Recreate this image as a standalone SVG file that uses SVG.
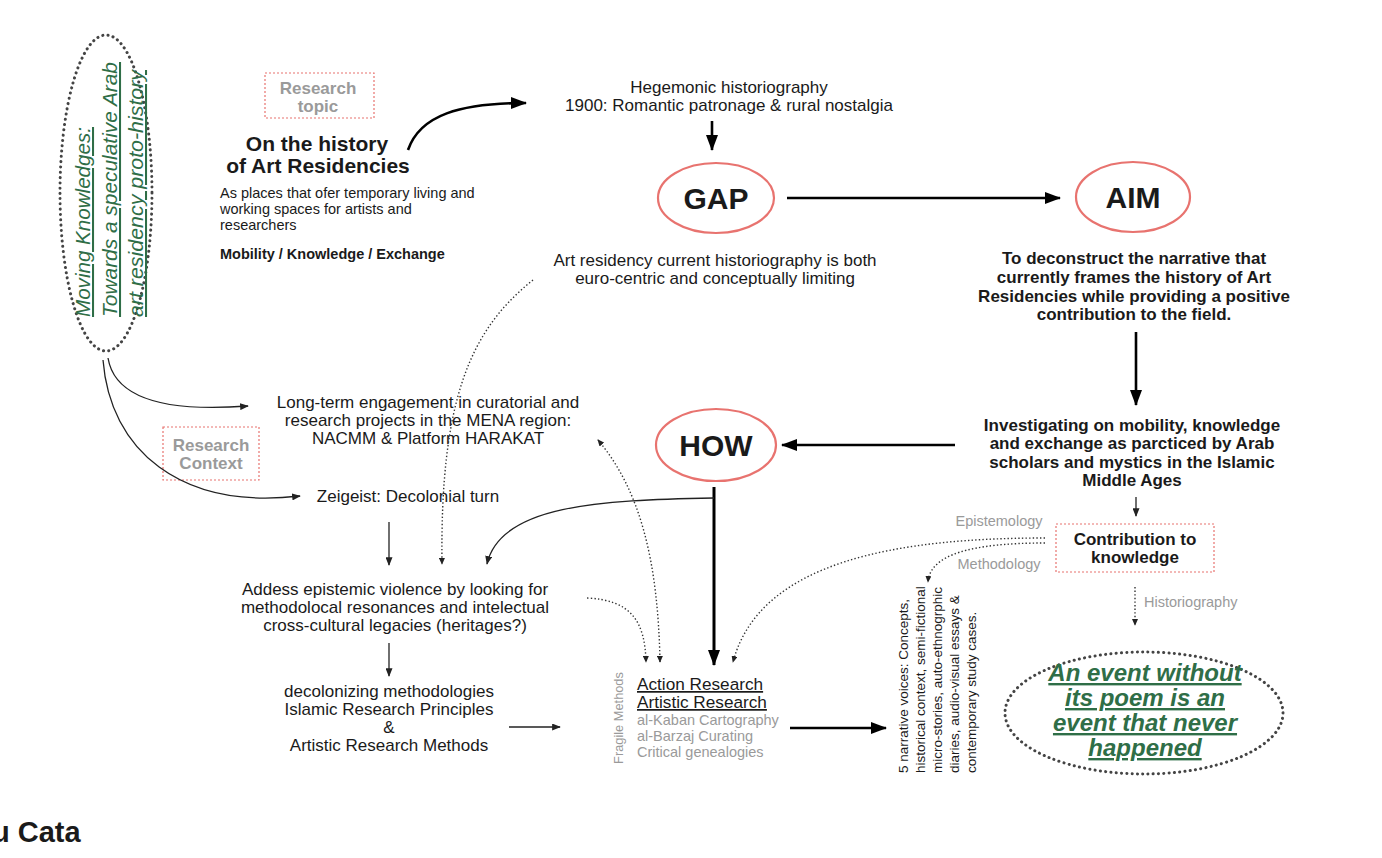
<svg xmlns="http://www.w3.org/2000/svg" width="1382" height="858" viewBox="0 0 1382 858">
<defs>
<style>
text{font-family:"Liberation Sans",Arial,sans-serif;fill:#1a1a1a}
.m{font-size:17px;text-anchor:middle}
.b{font-weight:bold}
.g{fill:#9a9a9a}
.gr{fill:#2f6e47;font-style:italic;text-decoration:underline}
.red{fill:none;stroke:#e8736f;stroke-width:2.2}
.box{fill:none;stroke:#e8736f;stroke-width:1.2;stroke-dasharray:2 2}
.dotE{fill:none;stroke:#444;stroke-width:3;stroke-dasharray:0.1 5.2;stroke-linecap:round}
.thin{fill:none;stroke:#222;stroke-width:1.3}
.thick{fill:none;stroke:#000;stroke-width:2.6}
.dot{fill:none;stroke:#333;stroke-width:1.4;stroke-dasharray:1.4 2.2}
.sm{font-size:14.5px}
</style>
<marker id="ah" viewBox="0 0 10 8" refX="9" refY="4" markerWidth="9" markerHeight="7" markerUnits="userSpaceOnUse" orient="auto"><path d="M0,0 L10,4 L0,8 z" fill="#222"/></marker>
<marker id="ahB" viewBox="0 0 16 12" refX="15" refY="6" markerWidth="16" markerHeight="12" markerUnits="userSpaceOnUse" orient="auto"><path d="M0,0 L16,6 L0,12 z" fill="#000"/></marker>
<marker id="ahD" viewBox="0 0 8 7" refX="7" refY="3.5" markerWidth="7" markerHeight="6" markerUnits="userSpaceOnUse" orient="auto-start-reverse"><path d="M0,0 L8,3.5 L0,7 z" fill="#222"/></marker>
</defs>
<rect width="1382" height="858" fill="#fff"/>

<g id="title">
<ellipse class="dotE" cx="106" cy="193" rx="46" ry="158"/>
<text class="gr" transform="translate(0,317) rotate(-90)" style="font-size:20.5px"><tspan x="0" y="90" textLength="190" lengthAdjust="spacingAndGlyphs">Moving Knowledges:</tspan><tspan x="0" y="117" textLength="255" lengthAdjust="spacingAndGlyphs">Towards a speculative Arab</tspan><tspan x="0" y="143" textLength="247" lengthAdjust="spacingAndGlyphs">art residency proto-history</tspan></text>
</g>

<g id="research-topic">
<rect class="box" x="265" y="73" width="109" height="45"/>
<text class="m b g"><tspan x="318" y="94">Research</tspan><tspan x="318" y="112">topic</tspan></text>
</g>

<g id="history">
<text class="b" style="font-size:21px;text-anchor:middle"><tspan x="317" y="151">On the history</tspan><tspan x="318" y="173">of Art Residencies</tspan></text>
<text class="sm"><tspan x="220" y="198">As places that ofer temporary living and</tspan><tspan x="220" y="214">working spaces for artists and</tspan><tspan x="220" y="230">researchers</tspan></text>
<text class="b sm" x="220" y="259">Mobility / Knowledge / Exchange</text>
</g>

<g id="hegemonic">
<text class="m"><tspan x="729" y="93">Hegemonic historiography</tspan><tspan x="729" y="111">1900: Romantic patronage &amp; rural nostalgia</tspan></text>
</g>

<g id="gap">
<ellipse class="red" cx="716" cy="198" rx="58" ry="35"/>
<text class="b" x="716" y="209" style="font-size:30px;text-anchor:middle">GAP</text>
<text class="m"><tspan x="715" y="266">Art residency current historiography is both</tspan><tspan x="715" y="284">euro-centric and conceptually limiting</tspan></text>
</g>

<g id="aim">
<ellipse class="red" cx="1133" cy="197" rx="57" ry="35"/>
<text class="b" x="1133" y="208" style="font-size:30px;text-anchor:middle">AIM</text>
<text class="m b"><tspan x="1134" y="264">To deconstruct the narrative that</tspan><tspan x="1134" y="283">currently frames the history of Art</tspan><tspan x="1134" y="302">Residencies while providing a positive</tspan><tspan x="1134" y="320">contribution to the field.</tspan></text>
</g>

<g id="investigating">
<text class="m b"><tspan x="1132" y="431">Investigating on mobility, knowledge</tspan><tspan x="1132" y="449">and exchange as parcticed by Arab</tspan><tspan x="1132" y="468">scholars and mystics in the Islamic</tspan><tspan x="1132" y="486">Middle Ages</tspan></text>
</g>

<g id="how">
<ellipse class="red" cx="716" cy="445" rx="60" ry="36"/>
<text class="b" x="716" y="456" style="font-size:30px;text-anchor:middle">HOW</text>
</g>

<g id="contribution">
<rect class="box" x="1056" y="524" width="158" height="48"/>
<text class="m b"><tspan x="1135" y="545">Contribution to</tspan><tspan x="1135" y="563">knowledge</tspan></text>
<text class="g sm" x="999" y="526" style="text-anchor:middle">Epistemology</text>
<text class="g sm" x="999" y="569" style="text-anchor:middle">Methodology</text>
<text class="g sm" x="1144" y="607">Historiography</text>
</g>

<g id="event">
<ellipse class="dotE" cx="1144" cy="713" rx="139" ry="61"/>
<text class="gr b" style="font-size:24px;text-anchor:middle"><tspan x="1145" y="681">An event without</tspan><tspan x="1145" y="706">its poem is an</tspan><tspan x="1145" y="731">event that never</tspan><tspan x="1145" y="756">happened</tspan></text>
</g>

<g id="narrative">
<text transform="translate(0,773) rotate(-90)" style="font-size:13.5px"><tspan x="0" y="908">5 narrative voices: Concepts,</tspan><tspan x="0" y="925">historical context, semi-fictional</tspan><tspan x="0" y="942">micro-stories, auto-ethnogrphic</tspan><tspan x="0" y="959">diaries, audio-visual essays &amp;</tspan><tspan x="0" y="976">contemporary study cases.</tspan></text>
</g>

<g id="engagement">
<text class="m"><tspan x="428" y="408">Long-term engagement in curatorial and</tspan><tspan x="428" y="426">research projects in the MENA region:</tspan><tspan x="428" y="444">NACMM &amp; Platform HARAKAT</tspan></text>
</g>

<g id="research-context">
<rect class="box" x="163" y="427" width="96" height="53"/>
<text class="m b g"><tspan x="211" y="451">Research</tspan><tspan x="211" y="469">Context</tspan></text>
</g>

<g id="zeitgeist">
<text class="m" x="408" y="502">Zeigeist: Decolonial turn</text>
</g>

<g id="addess">
<text class="m"><tspan x="395" y="595">Addess epistemic violence by looking for</tspan><tspan x="395" y="613">methodolocal resonances and intelectual</tspan><tspan x="395" y="631">cross-cultural legacies (heritages?)</tspan></text>
</g>

<g id="decolonizing">
<text class="m"><tspan x="389" y="697">decolonizing methodologies</tspan><tspan x="389" y="715">Islamic Research Principles</tspan><tspan x="389" y="733">&amp;</tspan><tspan x="389" y="751">Artistic Research Methods</tspan></text>
</g>

<g id="action">
<text style="font-size:17.2px;text-decoration:underline"><tspan x="637" y="690">Action Research</tspan><tspan x="637" y="708">Artistic Research</tspan></text>
<text class="g sm"><tspan x="637" y="725">al-Kaban Cartography</tspan><tspan x="637" y="741">al-Barzaj Curating</tspan><tspan x="637" y="757">Critical genealogies</tspan></text>
<text class="g" transform="translate(623,718) rotate(-90)" x="0" y="0" style="font-size:12.8px;text-anchor:middle">Fragile Methods</text>
</g>

<g id="author">
<text class="b" x="-8" y="842" style="font-size:29px">u Cata</text>
</g>

<g id="connectors">
<path class="thick" d="M408 150 C420 115 460 103 526 103" marker-end="url(#ahB)"/>
<path class="thick" d="M712 121 L712 150" marker-end="url(#ahB)"/>
<path class="thick" d="M787 198 L1060 198" marker-end="url(#ahB)"/>
<path class="thick" d="M1136 332 L1136 405" marker-end="url(#ahB)"/>
<path class="thick" d="M955 445 L782 445" marker-end="url(#ahB)"/>
<path class="thin" d="M1136 497 L1136 516" marker-end="url(#ah)"/>
<path class="thick" d="M714 487 L714 665" style="stroke-width:3" marker-end="url(#ahB)"/>
<path class="thin" d="M714 498 C600 500 500 505 487 564" marker-end="url(#ah)"/>
<path class="thick" d="M790 728 L886 728" marker-end="url(#ahB)"/>
<path class="thin" d="M108 358 C115 400 170 412 248 406" marker-end="url(#ah)"/>
<path class="thin" d="M103 360 C110 450 180 510 300 496" marker-end="url(#ah)"/>
<path class="thin" d="M389 522 L389 565" marker-end="url(#ah)"/>
<path class="thin" d="M389 643 L389 676" marker-end="url(#ah)"/>
<path class="thin" d="M509 727 L560 727" marker-end="url(#ah)"/>
<path class="dot" d="M533 280 C470 330 440 400 442 564" marker-end="url(#ahD)"/>
<path class="dot" d="M587 598 C630 600 645 620 646 662" marker-end="url(#ahD)"/>
<path class="dot" d="M598 440 C640 490 658 560 660 662" marker-start="url(#ahD)" marker-end="url(#ahD)"/>
<path class="dot" d="M1045 538 C900 538 760 560 733 662" marker-end="url(#ahD)"/>
<path class="dot" d="M1045 543 C970 543 930 555 928 582" marker-end="url(#ahD)"/>
<path class="dot" d="M1135 587 L1135 625" marker-end="url(#ahD)"/>
</g>
</svg>
